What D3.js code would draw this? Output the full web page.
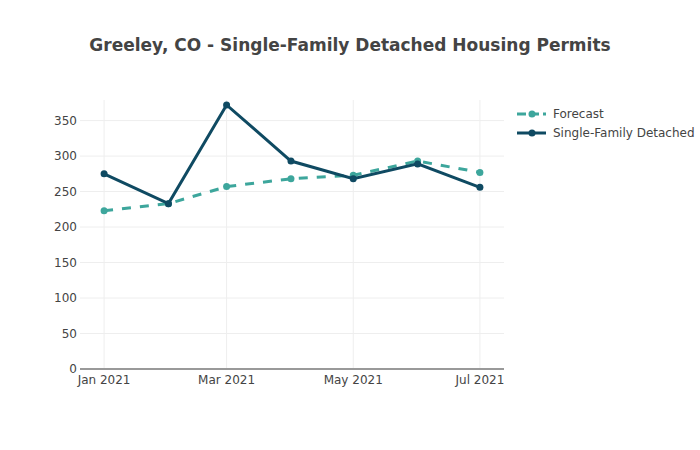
<!DOCTYPE html>
<html>
<head>
<meta charset="utf-8">
<script src="https://cdn.jsdelivr.net/npm/d3@7"></script>
<style>
  body { margin: 0; background: #fff; }
  svg { font-family: "DejaVu Sans", Verdana, sans-serif; }
</style>
</head>
<body>
<svg width="700" height="450"></svg>
<script>
const months = ["2021-01-01", "2021-02-01", "2021-03-01", "2021-04-01", "2021-05-01", "2021-06-01", "2021-07-01"];
const forecast = [223, 233, 257, 268, 273, 293, 277];
const actual = [275, 233, 372, 293, 268, 289, 256];
const seriesNames = ["Forecast", "Single-Family Detached"];
const yTicks = [0, 50, 100, 150, 200, 250, 300, 350];
const xTicks = ["2021-01-01", "2021-03-01", "2021-05-01", "2021-07-01"];

function drawLines() {
  let svg = d3.select("svg"),
    left = 80, right = 504, top = 100, bottom = 369;
  let parse = d3.utcParse("%Y-%m-%d");
  let dates = months.map(parse);
  let pad = 11.6 * 864e5;

  let x = d3.scaleUtc()
    .domain([new Date(+dates[0] - pad), new Date(+dates[dates.length - 1] + pad)])
    .range([left, right]);
  let y = d3.scaleLinear()
    .domain([0, 379])
    .range([bottom, top]);

  let colors = ["#3da69c", "#0f4a62"];

  // grid
  svg.append("g")
    .selectAll("line")
    .data(yTicks.slice(1))
    .enter().append("line")
    .attr("x1", left).attr("x2", right)
    .attr("y1", (d)=> y(d)).attr("y2", (d)=> y(d))
    .style("stroke", "#eeeeee");
  svg.append("g")
    .selectAll("line")
    .data(xTicks.map(parse))
    .enter().append("line")
    .attr("x1", (d)=> x(d)).attr("x2", (d)=> x(d))
    .attr("y1", top).attr("y2", bottom)
    .style("stroke", "#eeeeee");

  // y labels
  svg.append("g")
    .selectAll("text")
    .data(yTicks)
    .enter().append("text")
    .attr("x", left - 3)
    .attr("y", (d)=> y(d))
    .attr("dy", ".35em")
    .attr("text-anchor", "end")
    .style("font-size", "12px")
    .style("fill", "#444")
    .text((d)=> d);

  // x labels
  svg.append("g")
    .selectAll("text")
    .data(xTicks.map(parse))
    .enter().append("text")
    .attr("x", (d)=> x(d))
    .attr("y", bottom + 15)
    .attr("text-anchor", "middle")
    .style("font-size", "12px")
    .style("fill", "#444")
    .text(d3.utcFormat("%b %Y"));

  // zero line
  svg.append("line")
    .attr("x1", left).attr("x2", right)
    .attr("y1", y(0)).attr("y2", y(0))
    .style("stroke", "#999")
    .style("stroke-width", 2);

  let line = d3.line()
    .x((d, i)=> x(dates[i]))
    .y((d)=> y(d));

  let series = [forecast, actual];
  series.forEach((vals, k) => {
    svg.append("path")
      .datum(vals)
      .attr("d", line)
      .style("fill", "none")
      .style("stroke", colors[k])
      .style("stroke-width", 3)
      .style("stroke-dasharray", k === 0 ? "9,9" : null);
    svg.append("g")
      .selectAll("circle")
      .data(vals)
      .enter().append("circle")
      .attr("cx", (d, i)=> x(dates[i]))
      .attr("cy", (d)=> y(d))
      .attr("r", 3.5)
      .style("fill", colors[k]);
  });

  // legend
  let legend = svg.append("g")
    .selectAll("g")
    .data(seriesNames)
    .enter().append("g")
    .attr("transform", (d, i)=> "translate(517," + (114 + i * 19) + ")");
  legend.append("line")
    .attr("x1", 0).attr("x2", 29)
    .style("stroke", (d, i)=> colors[i])
    .style("stroke-width", 3)
    .style("stroke-dasharray", (d, i)=> i === 0 ? "9,4" : null);
  legend.append("circle")
    .attr("cx", 15)
    .attr("r", 3.5)
    .style("fill", (d, i)=> colors[i]);
  legend.append("text")
    .attr("x", 36)
    .attr("dy", ".35em")
    .style("font-size", "12px")
    .style("fill", "#444")
    .text((d)=> d);

  svg.append("text")
    .attr("x", 350)
    .attr("y", 51)
    .attr("text-anchor", "middle")
    .style("font-size", "17px")
    .style("font-weight", "bold")
    .style("fill", "#444")
    .text("Greeley, CO - Single-Family Detached Housing Permits");
}

drawLines();
</script>
</body>
</html>
